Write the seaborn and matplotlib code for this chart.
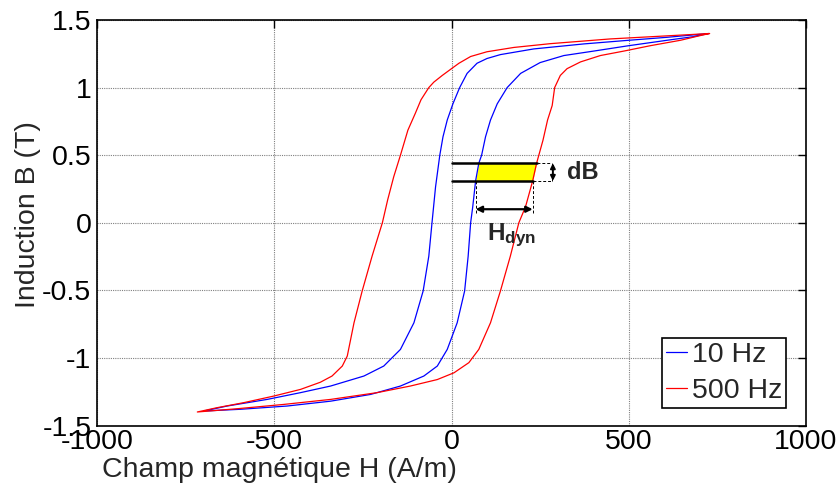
import numpy as np
import pandas as pd
import matplotlib
matplotlib.use("Agg")
import matplotlib.pyplot as plt
import seaborn as sns

# -----------------------------
# Data
# -----------------------------
# 10 Hz loop: descending branch (from +tip to -tip)
b10_down = [1.40, 1.372, 1.35, 1.323, 1.286, 1.244, 1.215, 1.18, 1.105, 1.00, 0.88,
            0.76, 0.636, 0.50, 0.265, 0.00, -0.247, -0.505, -0.74, -0.937, -1.06,
            -1.134, -1.208, -1.257, -1.307, -1.356, -1.393]
h10_down = [725, 608, 500, 373, 232, 138, 100, 72, 44, 23, 4,
            -12, -24, -33, -45, -55, -64, -80, -106, -144, -191,
            -247, -341, -426, -520, -633, -699]
# 10 Hz loop: ascending branch (from -tip to +tip)
b10_up = [-1.393, -1.38, -1.356, -1.32, -1.27, -1.208, -1.134, -1.06, -0.937, -0.74,
          -0.505, -0.247, 0.00, 0.12, 0.31, 0.44, 0.50, 0.636, 0.76, 0.88, 1.00,
          1.105, 1.185, 1.237, 1.27, 1.31, 1.35, 1.377, 1.40]
h10_up = [-699, -595, -464, -341, -228, -144, -78, -40, -12, 16,
          37, 47, 54, 60, 68, 77, 85, 96, 110, 129, 157,
          195, 250, 317, 401, 500, 608, 683, 725]

# 500 Hz loop
b500_down = [1.40, 1.38, 1.36, 1.325, 1.297, 1.265, 1.23, 1.18, 1.14, 1.09, 1.04,
             1.00, 0.91, 0.81, 0.685, 0.50, 0.34, 0.17, 0.00, -0.247, -0.505,
             -0.74, -0.986, -1.06, -1.134, -1.18, -1.233, -1.282, -1.331, -1.368, -1.40]
h500_down = [728, 589, 448, 279, 176, 100, 54, 21, 0, -26, -50,
             -64, -86, -102, -123, -144, -163, -180, -195, -224, -252,
             -275, -294, -308, -337, -370, -426, -501, -586, -661, -717]
b500_up = [-1.40, -1.376, -1.344, -1.307, -1.257, -1.208, -1.16, -1.11, -1.035, -0.937,
           -0.74, -0.505, -0.247, 0.00, 0.12, 0.31, 0.44, 0.61, 0.76, 0.867, 1.00,
           1.09, 1.14, 1.19, 1.237, 1.27, 1.31, 1.35, 1.385, 1.40]
h500_up = [-717, -605, -473, -341, -210, -116, -40, 7, 49, 77,
           110, 138, 166, 190, 209, 229, 240, 258, 271, 284, 291,
           307, 326, 364, 420, 486, 561, 646, 702, 728]

freqs = ["10 Hz", "500 Hz"]
colors = ["#0000ff", "#ff0000"]

# annotation levels
dB_low = 0.31
dB_high = 0.44
arrow_B = 0.10
dB_box_H = 283

xticks = [-1000, -500, 0, 500, 1000]
yticks = [-1.5, -1, -0.5, 0, 0.5, 1, 1.5]
ytick_labels = ["-1.5", "-1", "-0.5", "0", "0.5", "1", "1.5"]

# -----------------------------
# Build long table
# -----------------------------
rows = []
for f, hd, bd, hu, bu in [
    ("10 Hz", h10_down, b10_down, h10_up, b10_up),
    ("500 Hz", h500_down, b500_down, h500_up, b500_up),
]:
    for h, b in zip(hd + hu, bd + bu):
        rows.append({"H": h, "B": b, "freq": f})
df = pd.DataFrame(rows)

# -----------------------------
# Plot
# -----------------------------
sns.set_style("white")
plt.rcParams["font.family"] = ["Liberation Sans", "DejaVu Sans"]
plt.rcParams["axes.unicode_minus"] = False
plt.rcParams["mathtext.fontset"] = "custom"
plt.rcParams["mathtext.rm"] = "Liberation Sans"
plt.rcParams["mathtext.bf"] = "Liberation Sans:bold"

fig = plt.figure(figsize=(8.39, 4.88), dpi=100)
ax = fig.add_axes([97 / 839, 1 - 425.5 / 488, 709 / 839, 405.5 / 488])

sns.lineplot(
    data=df, x="H", y="B", hue="freq", hue_order=freqs,
    palette=colors, sort=False, estimator=None, lw=0.9,
    legend=False, ax=ax, zorder=3,
)

# yellow region between the two ascending branches
blue_up_B = np.array(b10_up)
blue_up_H = np.array(h10_up)
red_up_B = np.array(b500_up)
red_up_H = np.array(h500_up)

bb = np.linspace(dB_low, dB_high, 30)
x_blue = np.interp(bb, blue_up_B, blue_up_H)
x_red = np.interp(bb, red_up_B, red_up_H)
ax.fill_betweenx(bb, x_blue, x_red, color="#ffff00", zorder=2, lw=0)

red_hi = np.interp(dB_high, red_up_B, red_up_H)
red_lo = np.interp(dB_low, red_up_B, red_up_H)
blue_lo = np.interp(dB_low, blue_up_B, blue_up_H)

dash = (0, (3, 2))
ax.plot([0, red_hi], [dB_high, dB_high], color="black", lw=1.8, zorder=4)
ax.plot([0, red_lo], [dB_low, dB_low], color="black", lw=1.8, zorder=4)
ax.plot([red_hi, dB_box_H], [dB_high, dB_high], color="black", lw=0.7, ls=dash, zorder=4)
ax.plot([red_lo, dB_box_H], [dB_low, dB_low], color="black", lw=0.7, ls=dash, zorder=4)
ax.plot([dB_box_H, dB_box_H], [dB_low, dB_high], color="black", lw=0.7, ls=dash, zorder=4)
ax.plot([blue_lo, blue_lo], [arrow_B - 0.03, dB_low], color="black", lw=0.7, ls=dash, zorder=4)
ax.plot([red_lo, red_lo], [arrow_B - 0.03, dB_low], color="black", lw=0.7, ls=dash, zorder=4)

ax.annotate("", xy=(blue_lo, arrow_B), xytext=(red_lo, arrow_B),
            arrowprops=dict(arrowstyle="<|-|>", color="black", lw=1.6,
                            mutation_scale=9, shrinkA=0, shrinkB=0), zorder=5)
ax.annotate("", xy=(dB_box_H + 3, dB_high), xytext=(dB_box_H + 3, dB_low),
            arrowprops=dict(arrowstyle="<|-|>", color="black", lw=1.4,
                            mutation_scale=7, shrinkA=0, shrinkB=0), zorder=5)

ax.text(325, 0.375, "dB", fontsize=17, fontweight="bold", va="center", ha="left")
ax.text(100, -0.09, r"$\mathbf{H_{dyn}}$", fontsize=17.5, va="center", ha="left")

# axes styling (MATLAB look)
ax.set_xlim(-1000, 1000)
ax.set_ylim(-1.5, 1.5)
ax.set_xticks(xticks)
ax.set_xticklabels([str(t) for t in xticks])
ax.set_yticks(yticks)
ax.set_yticklabels(ytick_labels)
ax.tick_params(direction="in", length=6, width=1, top=True, right=True,
               labelsize=20.5, colors="black")
ax.tick_params(axis="x", pad=2.5)
ax.tick_params(axis="y", pad=4)
ax.grid(True, color="#808080", lw=0.8, ls=(0, (1, 1)), zorder=0)
ax.set_axisbelow(True)
for s in ax.spines.values():
    s.set_color("black")
    s.set_linewidth(1.2)
    s.set_visible(True)

ax.set_xlabel("Champ magnétique H (A/m)", fontsize=20.5)
ax.set_ylabel("Induction B (T)", fontsize=20.5)
ax.xaxis.set_label_coords(0.258, -0.078)
ax.yaxis.set_label_coords(-0.079, 0.519)

handles = [plt.Line2D([], [], color=c, lw=0.9) for c in colors]
leg = ax.legend(handles, freqs, loc="lower right", bbox_to_anchor=(0.972, 0.043),
                borderaxespad=0, fontsize=20.5, handlelength=0.75,
                handletextpad=0.15, borderpad=0.15, labelspacing=0.35,
                frameon=True, fancybox=False, framealpha=1)
leg.get_frame().set_edgecolor("black")
leg.get_frame().set_linewidth(1.2)

fig.savefig("out.png", dpi=100)
plt.close(fig)
